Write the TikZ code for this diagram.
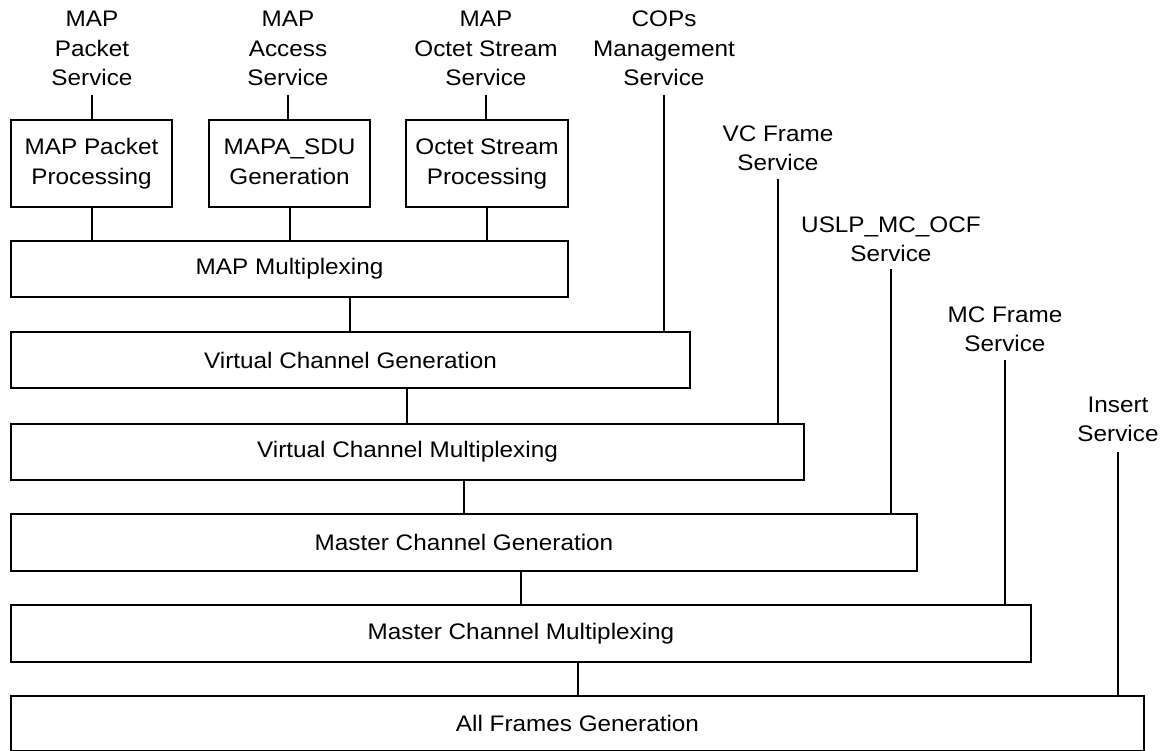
\documentclass[tikz,border=0pt]{standalone}
\usepackage{fontspec}
\setmainfont{Liberation Sans}[FakeStretch=1.08]
\begin{document}
\begin{tikzpicture}[x=1pt,y=-1pt,
  box/.style={draw,line width=2pt,anchor=north west,inner sep=0pt,align=center,
    font=\fontsize{22.5}{29.5}\selectfont},
  lbl/.style={anchor=south,inner sep=0pt,align=center,font=\fontsize{22.5}{29.5}\selectfont},
  conn/.style={line width=2pt}]
\useasboundingbox (0,0) rectangle (1163,751);
\fill[white] (0,0) rectangle (1163,751);
% boxes
\node[box,minimum width=161pt,minimum height=87pt] (pp) at (10,119) {\strut MAP Packet\\\strut Processing};
\node[box,minimum width=161pt,minimum height=87pt] (sdu) at (208,119) {\strut MAPA\_SDU\\\strut Generation};
\node[box,minimum width=162pt,minimum height=87pt] (osp) at (405,119) {\strut Octet Stream\\\strut Processing};
\node[box,minimum width=557pt,minimum height=56pt] (mux) at (10,240) {MAP Multiplexing};
\node[box,minimum width=679pt,minimum height=56pt] (vcg) at (10,331) {Virtual Channel Generation};
\node[box,minimum width=793pt,minimum height=56pt] (vcm) at (10,423) {Virtual Channel Multiplexing};
\node[box,minimum width=906pt,minimum height=57pt] (mcg) at (10,513) {Master Channel Generation};
\node[box,minimum width=1020pt,minimum height=57pt] (mcm) at (10,604) {Master Channel Multiplexing};
\node[box,minimum width=1133pt,minimum height=55pt] (afg) at (10,695) {All Frames Generation};
% labels
\node[lbl] (lpp) at (92,86) {MAP\\Packet\\Service};
\node[lbl] (lsdu) at (288,86) {MAP\\Access\\Service};
\node[lbl] (losp) at (486,86) {MAP\\Octet Stream\\Service};
\node[lbl] (lcops) at (664,86) {COPs\\Management\\Service};
\node[lbl] (lvcf) at (778,171) {VC Frame\\Service};
\node[lbl] (luslp) at (891,262) {USLP\_MC\_OCF\\Service};
\node[lbl] (lmcf) at (1005,352) {MC Frame\\Service};
\node[lbl] (lins) at (1118,442) {Insert\\Service};
% line tops
\coordinate (tpp) at (92,95);
\coordinate (tsdu) at (288,95);
\coordinate (tosp) at (486,95);
\coordinate (tcops) at (664,95);
\coordinate (tvcf) at (778,179);
\coordinate (tuslp) at (891,269);
\coordinate (tmcf) at (1005,360);
\coordinate (tins) at (1118,452);
% connectors
\draw[conn] (tpp) -- (tpp |- pp.north);
\draw[conn] (tsdu) -- (tsdu |- sdu.north);
\draw[conn] (tosp) -- (tosp |- osp.north);
\draw[conn] (pp.south) -- (pp.south |- mux.north);
\draw[conn] (sdu.south) -- (sdu.south |- mux.north);
\draw[conn] (osp.south) -- (osp.south |- mux.north);
\draw[conn] (mux.south -| 350,0) -- (vcg.north -| 350,0);
\draw[conn] (tcops) -- (tcops |- vcg.north);
\draw[conn] (vcg.south -| 407,0) -- (vcm.north -| 407,0);
\draw[conn] (tvcf) -- (tvcf |- vcm.north);
\draw[conn] (vcm.south -| 464,0) -- (mcg.north -| 464,0);
\draw[conn] (tuslp) -- (tuslp |- mcg.north);
\draw[conn] (mcg.south -| 521,0) -- (mcm.north -| 521,0);
\draw[conn] (tmcf) -- (tmcf |- mcm.north);
\draw[conn] (mcm.south -| 578,0) -- (afg.north -| 578,0);
\draw[conn] (tins) -- (tins |- afg.north);
\end{tikzpicture}
\end{document}
